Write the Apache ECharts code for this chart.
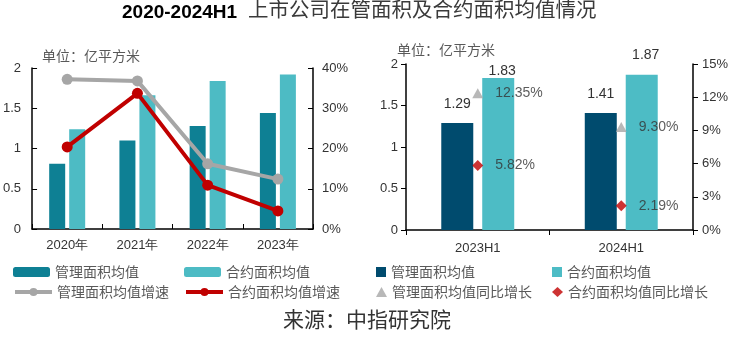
<!DOCTYPE html>
<html><head><meta charset="utf-8">
<script src="https://cdn.jsdelivr.net/npm/echarts@6/dist/echarts.min.js"></script>
<style>html,body{margin:0;padding:0;background:#fff}#c{width:740px;height:348px}</style>
</head><body><div id="c"></div>
<script>
// ---- data ----
const yearsL = ['2020年', '2021年', '2022年', '2023年'];
const mgmtAvgL = [0.81, 1.10, 1.28, 1.44];
const contractAvgL = [1.24, 1.66, 1.84, 1.92];
const mgmtGrowthL = [37.2, 36.8, 16.2, 12.4];
const contractGrowthL = [20.4, 33.7, 10.9, 4.5];

const periodsR = ['2023H1', '2024H1'];
const mgmtAvgR = [1.29, 1.41];
const contractAvgR = [1.83, 1.87];
const mgmtYoYR = [12.35, 9.30];
const contractYoYR = [5.82, 2.19];

// label distances (styling only)
const mgmtLabelDist = [12, 12];
const contractLabelDist = [0, 13];

const CJK = '"Noto Sans CJK SC", sans-serif';
const NUM = '"Liberation Sans", Arial, sans-serif';
const NARROW = '"Liberation Sans Narrow", "Liberation Sans", Arial, sans-serif';

const cDarkL = '#0E8094', cLightL = '#4DBBC4', cDarkR = '#004B6E', cLightR = '#4DBCC5';
const cGray = '#A6A6A6', cRed = '#C00000';

const chart = echarts.init(document.getElementById('c'));
const axisLine = {show: true, lineStyle: {color: '#000', width: 1.5}};
const legendText = {fontFamily: CJK, fontSize: 14, color: '#595959'};

chart.setOption({
  animation: false,
  graphic: [
    {type: 'text', left: 122, top: 3, style: {text: '2020-2024H1', font: 'bold 19px ' + NUM, fill: '#000'}},
    {type: 'text', left: 248, top: -1, style: {text: '上市公司在管面积及合约面积均值情况', font: '20.5px ' + CJK, fill: '#3a3a3a'}},
    {type: 'text', left: 42, top: 49, style: {text: '单位：亿平方米', font: '14px ' + CJK, fill: '#595959'}},
    {type: 'text', left: 397, top: 43, style: {text: '单位：亿平方米', font: '14px ' + CJK, fill: '#595959'}},
    {type: 'text', left: 283, top: 309, style: {text: '来源：中指研究院', font: '21px ' + CJK, fill: '#333'}}
  ],
  legend: [
    {left: 8, top: 260, itemWidth: 37, itemHeight: 10, itemGap: 7, textStyle: legendText, data: ['管理面积均值']},
    {left: 179, top: 260, itemWidth: 37, itemHeight: 10, textStyle: legendText, data: ['合约面积均值']},
    {left: 8, top: 280, itemWidth: 37, itemHeight: 10, textStyle: legendText, lineStyle: {width: 4}, data: ['管理面积均值增速']},
    {left: 179, top: 280, itemWidth: 37, itemHeight: 10, textStyle: legendText, lineStyle: {width: 4}, data: ['合约面积均值增速']},
    {left: 371, top: 260, itemWidth: 10, itemHeight: 10, textStyle: legendText, data: [{name: '管理面积均值 ', icon: 'rect'}]},
    {left: 547, top: 260, itemWidth: 10, itemHeight: 10, textStyle: legendText, data: [{name: '合约面积均值 ', icon: 'rect'}]},
    {left: 371, top: 280, itemWidth: 11, itemHeight: 10, textStyle: legendText, data: [{name: '管理面积均值同比增长', icon: 'triangle'}]},
    {left: 547, top: 280, itemWidth: 11, itemHeight: 10, textStyle: legendText, data: [{name: '合约面积均值同比增长', icon: 'diamond'}]}
  ],
  grid: [
    {left: 32, right: 427, top: 68, bottom: 119},
    {left: 406, right: 47, top: 64, bottom: 118}
  ],
  xAxis: [
    {type: 'category', gridIndex: 0, data: yearsL, axisLine: axisLine,
     axisTick: {show: true, inside: true, length: 5, lineStyle: {color: '#000'}},
     axisLabel: {fontFamily: NUM, fontSize: 13, color: '#333', margin: 10}},
    {type: 'category', gridIndex: 1, data: periodsR, axisLine: axisLine,
     axisTick: {show: true, inside: false, length: 5, lineStyle: {color: '#000'}},
     axisLabel: {fontFamily: NUM, fontSize: 13, color: '#333', margin: 12}}
  ],
  yAxis: [
    {type: 'value', gridIndex: 0, min: 0, max: 2, interval: 0.5, position: 'left', axisLine: axisLine,
     axisTick: {show: true, inside: true, length: 5, lineStyle: {color: '#000'}}, splitLine: {show: false},
     axisLabel: {fontFamily: NUM, fontSize: 13, color: '#333', margin: 11}},
    {type: 'value', gridIndex: 0, min: 0, max: 40, interval: 10, position: 'right', axisLine: axisLine,
     axisTick: {show: true, inside: true, length: 5, lineStyle: {color: '#000'}}, splitLine: {show: false},
     axisLabel: {fontFamily: NARROW, fontSize: 13, color: '#333', margin: 9, formatter: '{value}%'}},
    {type: 'value', gridIndex: 1, min: 0, max: 2, interval: 0.5, position: 'left', axisLine: axisLine,
     axisTick: {show: true, inside: false, length: 5, lineStyle: {color: '#000'}}, splitLine: {show: false},
     axisLabel: {fontFamily: NUM, fontSize: 13, color: '#333', margin: 8}},
    {type: 'value', gridIndex: 1, min: 0, max: 15, interval: 3, position: 'right', axisLine: axisLine,
     axisTick: {show: true, inside: false, length: 5, lineStyle: {color: '#000'}}, splitLine: {show: false},
     axisLabel: {fontFamily: NARROW, fontSize: 13, color: '#333', margin: 9, formatter: '{value}%'}}
  ],
  series: [
    {name: '管理面积均值', type: 'bar', xAxisIndex: 0, yAxisIndex: 0, data: mgmtAvgL,
     barWidth: 16, barGap: '25%', itemStyle: {color: cDarkL}},
    {name: '合约面积均值', type: 'bar', xAxisIndex: 0, yAxisIndex: 0, data: contractAvgL,
     barWidth: 16, barGap: '25%', itemStyle: {color: cLightL}},
    {name: '管理面积均值增速', type: 'line', xAxisIndex: 0, yAxisIndex: 1, data: mgmtGrowthL,
     symbol: 'circle', symbolSize: 11, lineStyle: {color: cGray, width: 4}, itemStyle: {color: cGray}, z: 5},
    {name: '合约面积均值增速', type: 'line', xAxisIndex: 0, yAxisIndex: 1, data: contractGrowthL,
     symbol: 'circle', symbolSize: 11, lineStyle: {color: cRed, width: 4}, itemStyle: {color: cRed}, z: 6},
    {name: '管理面积均值 ', type: 'bar', xAxisIndex: 1, yAxisIndex: 2,
     data: mgmtAvgR.map((v, i) => ({value: v, label: {distance: mgmtLabelDist[i]}})),
     barWidth: 32, barGap: '28%', itemStyle: {color: cDarkR},
     label: {show: true, position: 'top', fontFamily: NUM, fontSize: 14, color: '#333'}},
    {name: '合约面积均值 ', type: 'bar', xAxisIndex: 1, yAxisIndex: 2,
     data: contractAvgR.map((v, i) => ({value: v, label: {distance: contractLabelDist[i]}})),
     barWidth: 32, barGap: '28%', itemStyle: {color: cLightR},
     label: {show: true, position: 'top', fontFamily: NUM, fontSize: 14, color: '#333', offset: [4, 0]}},
    {name: '管理面积均值同比增长', type: 'scatter', xAxisIndex: 1, yAxisIndex: 3, data: mgmtYoYR,
     symbol: 'triangle', symbolSize: [11, 10], itemStyle: {color: cGray}, z: 5,
     label: {show: true, position: 'right', distance: 12, fontFamily: NUM, fontSize: 14, color: '#333',
             formatter: p => p.value.toFixed(2) + '%'}},
    {name: '合约面积均值同比增长', type: 'scatter', xAxisIndex: 1, yAxisIndex: 3, data: contractYoYR,
     symbol: 'diamond', symbolSize: 11, itemStyle: {color: cRed}, z: 5,
     label: {show: true, position: 'right', distance: 12, fontFamily: NUM, fontSize: 14, color: '#333',
             formatter: p => p.value.toFixed(2) + '%'}}
  ]
});
</script></body></html>
